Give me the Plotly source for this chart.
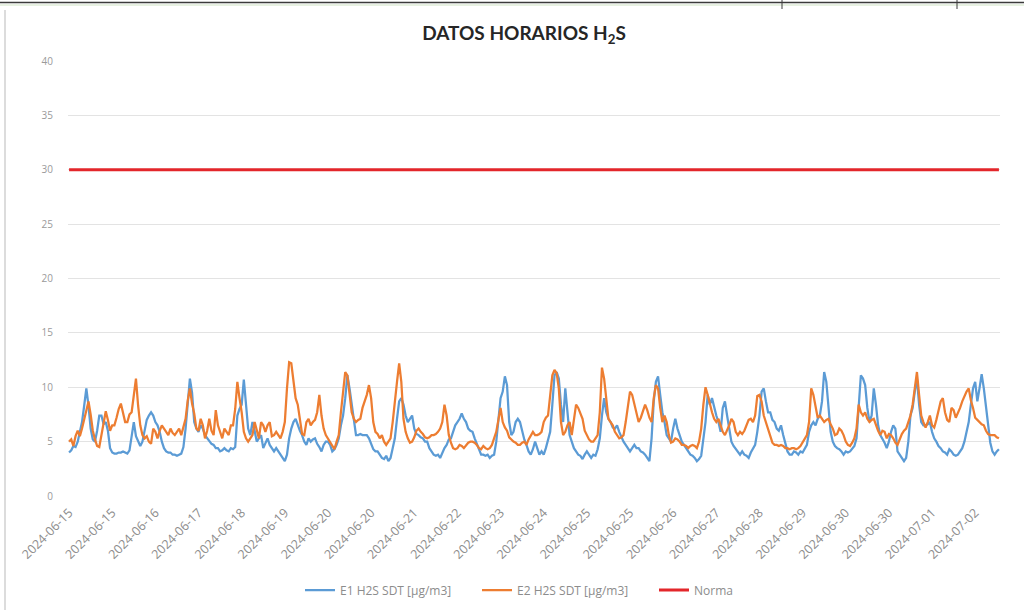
import pandas as pd
import plotly.graph_objects as go

# Hourly H2S readings, 2024-06-15 00:00 to 2024-07-02 23:00 (one row of 24 per day)
e1_h2s = [
    4.0, 4.2, 4.6, 4.5, 5.0, 6.0, 6.8, 8.3, 9.9, 8.3, 6.2, 5.2, 5.0, 6.0, 7.4, 7.4, 6.6, 6.8, 6.0, 4.4, 4.0, 3.9, 3.9, 4.0,
    4.0, 4.1, 4.0, 3.9, 4.2, 5.6, 6.8, 5.5, 5.0, 4.6, 5.0, 5.9, 7.0, 7.4, 7.7, 7.4, 6.8, 6.5, 5.9, 5.0, 4.4, 4.1, 4.0, 4.0,
    3.8, 3.8, 3.7, 3.8, 3.9, 4.5, 6.2, 8.5, 10.8, 9.5, 6.8, 6.2, 5.9, 6.5, 6.2, 5.6, 5.3, 5.0, 4.8, 4.7, 4.4, 4.4, 4.1, 4.2,
    4.4, 4.2, 4.1, 4.4, 4.3, 4.5, 7.4, 8.0, 8.4, 10.7, 8.0, 6.2, 5.6, 6.8, 6.0, 5.0, 5.3, 5.6, 4.4, 4.8, 5.3, 4.7, 4.4, 4.1,
    4.4, 4.1, 3.8, 3.5, 3.2, 3.8, 5.3, 6.2, 6.8, 7.1, 6.5, 6.0, 5.6, 5.0, 4.7, 5.3, 5.0, 5.2, 5.3, 4.8, 4.5, 4.1, 4.7, 5.0,
    5.0, 4.7, 4.1, 4.3, 4.7, 5.3, 6.5, 7.4, 9.0, 11.1, 9.9, 8.4, 6.8, 5.6, 5.6, 5.7, 5.6, 5.6, 5.6, 5.3, 4.7, 4.3, 4.1, 4.1,
    3.8, 3.5, 3.4, 3.7, 3.2, 3.5, 4.4, 5.3, 7.1, 8.7, 9.0, 8.4, 7.4, 6.8, 7.1, 7.4, 6.2, 5.7, 5.6, 5.4, 5.3, 5.0, 5.0, 4.4,
    4.1, 3.8, 3.7, 3.8, 3.5, 4.0, 4.4, 4.7, 5.2, 5.3, 5.9, 6.5, 6.8, 7.1, 7.6, 7.1, 6.8, 6.2, 6.0, 5.9, 5.3, 4.8, 4.3, 3.8,
    3.8, 3.7, 3.8, 3.5, 3.7, 3.8, 5.0, 6.8, 9.0, 9.6, 11.0, 10.2, 6.8, 5.6, 5.9, 6.8, 7.1, 6.8, 5.9, 5.2, 4.7, 4.1, 3.8, 4.3,
    5.0, 4.4, 3.8, 4.1, 3.8, 4.4, 5.3, 5.9, 8.4, 11.1, 11.4, 10.8, 8.4, 6.8, 9.9, 7.4, 5.6, 5.0, 4.4, 4.1, 3.8, 3.7, 3.4, 3.8,
    4.1, 3.8, 3.5, 3.8, 3.7, 4.3, 5.3, 7.4, 9.0, 7.7, 7.1, 6.8, 6.3, 6.2, 6.5, 5.9, 5.4, 5.0, 4.7, 4.4, 4.1, 4.4, 4.7, 4.4,
    4.4, 4.1, 4.0, 3.8, 3.5, 3.2, 5.3, 8.7, 10.5, 11.0, 9.3, 7.7, 6.8, 5.6, 5.3, 5.0, 6.2, 7.1, 6.2, 5.6, 5.0, 4.7, 4.4, 4.1,
    3.8, 3.7, 3.5, 3.2, 3.4, 3.7, 5.3, 6.8, 9.3, 8.4, 9.0, 8.1, 7.4, 6.8, 5.9, 8.1, 8.7, 7.4, 6.2, 5.0, 4.6, 4.3, 4.1, 3.8,
    4.1, 3.8, 3.7, 3.5, 4.0, 4.4, 4.7, 5.9, 7.4, 9.6, 9.9, 8.7, 7.7, 7.7, 7.0, 6.8, 6.2, 6.0, 6.5, 5.6, 4.7, 4.1, 3.8, 3.8,
    4.1, 4.0, 3.8, 4.1, 4.0, 4.3, 4.7, 5.9, 6.5, 6.8, 6.5, 7.1, 7.4, 8.7, 11.4, 10.5, 8.1, 5.9, 5.0, 4.6, 4.4, 4.3, 4.1, 3.8,
    4.1, 4.0, 4.1, 4.4, 4.6, 5.3, 8.4, 11.1, 10.8, 10.2, 8.1, 6.8, 7.4, 9.9, 8.4, 6.5, 5.6, 5.3, 4.9, 4.4, 5.0, 5.9, 6.5, 6.2,
    4.1, 3.8, 3.5, 3.2, 3.5, 5.0, 7.4, 8.1, 9.6, 10.8, 8.4, 6.8, 6.5, 6.5, 6.6, 6.8, 5.9, 5.3, 5.0, 4.6, 4.4, 4.1, 4.0, 3.8,
    4.3, 4.1, 3.8, 3.7, 3.8, 4.1, 4.4, 5.0, 5.9, 6.8, 8.4, 9.9, 10.5, 8.7, 9.9, 11.2, 9.9, 8.1, 6.2, 4.9, 4.1, 3.8, 4.1, 4.3,
]

e2_h2s = [
    5.0, 5.2, 4.6, 5.5, 6.0, 5.5, 6.2, 7.0, 7.8, 8.7, 7.5, 6.0, 5.2, 4.6, 4.5, 5.5, 6.5, 7.8, 7.0, 6.0, 6.5, 6.5, 7.2, 8.0,
    8.5, 7.5, 6.8, 6.8, 7.5, 7.7, 9.5, 10.8, 8.3, 6.5, 5.6, 5.3, 5.5, 5.0, 4.8, 6.2, 5.9, 5.3, 6.0, 6.5, 6.2, 5.9, 5.6, 6.2,
    5.8, 5.6, 5.9, 6.2, 5.6, 6.5, 7.1, 8.8, 9.9, 8.5, 7.6, 6.2, 6.0, 7.1, 6.5, 5.3, 6.0, 7.1, 6.0, 5.6, 7.9, 6.5, 5.9, 5.3,
    6.2, 5.9, 5.6, 6.5, 6.5, 8.0, 10.5, 9.0, 7.7, 5.9, 5.3, 5.0, 5.3, 5.6, 6.8, 6.0, 5.3, 6.8, 6.5, 5.9, 6.5, 6.8, 5.5, 5.6,
    5.9, 5.6, 5.3, 5.9, 6.8, 9.9, 12.3, 12.2, 10.5, 9.0, 8.4, 6.8, 5.7, 5.6, 6.8, 7.1, 6.5, 6.8, 7.0, 7.7, 9.3, 7.4, 6.2, 5.6,
    5.3, 5.0, 4.7, 4.3, 5.0, 5.6, 7.7, 9.9, 11.4, 11.1, 9.3, 7.7, 7.1, 6.8, 7.0, 7.1, 8.1, 8.7, 9.3, 10.2, 9.0, 6.8, 5.9, 5.7,
    5.3, 5.6, 5.0, 4.7, 5.0, 5.3, 6.8, 8.4, 10.5, 12.2, 10.5, 7.1, 5.9, 5.3, 4.9, 5.0, 5.4, 6.0, 6.2, 5.9, 5.7, 5.4, 5.3, 5.4,
    5.6, 5.6, 5.7, 5.9, 6.2, 6.8, 8.4, 7.4, 5.6, 4.9, 4.4, 4.3, 4.4, 4.7, 4.6, 4.4, 4.7, 4.9, 5.0, 5.0, 4.9, 4.7, 4.4, 4.3,
    4.6, 4.4, 4.3, 4.4, 4.7, 5.3, 5.9, 7.0, 8.1, 6.8, 6.3, 6.0, 5.4, 5.2, 5.0, 4.9, 4.7, 4.7, 4.9, 5.0, 4.7, 5.2, 5.6, 5.9,
    5.6, 5.6, 5.7, 5.9, 6.8, 7.2, 7.4, 9.3, 11.1, 11.6, 11.3, 9.9, 6.8, 5.6, 5.9, 6.5, 6.8, 5.6, 7.1, 8.4, 8.1, 7.6, 7.1, 6.0,
    5.6, 5.2, 5.0, 5.0, 5.3, 5.6, 7.7, 11.8, 10.8, 8.7, 7.1, 6.8, 6.5, 5.9, 5.6, 5.3, 5.4, 5.6, 6.8, 8.4, 9.6, 9.3, 8.4, 7.4,
    6.8, 7.2, 7.9, 8.4, 7.9, 7.2, 6.8, 9.0, 10.2, 9.9, 8.1, 6.8, 7.4, 6.8, 5.6, 4.9, 5.0, 5.3, 5.2, 5.0, 4.7, 4.7, 4.6, 4.4,
    4.6, 4.7, 4.6, 4.4, 5.0, 6.2, 8.4, 10.0, 9.3, 8.4, 7.7, 7.1, 6.8, 7.1, 6.5, 5.9, 5.6, 6.0, 6.5, 7.1, 6.8, 5.9, 5.6, 5.9,
    5.7, 6.0, 6.5, 7.0, 7.1, 6.8, 7.4, 9.2, 9.3, 8.7, 7.4, 6.8, 6.3, 5.6, 4.9, 4.7, 4.7, 4.6, 4.7, 4.6, 4.4, 4.4, 4.3, 4.4,
    4.4, 4.3, 4.4, 4.6, 4.9, 5.3, 5.6, 6.8, 9.9, 9.3, 8.1, 7.2, 7.4, 7.1, 6.8, 7.0, 7.1, 6.6, 6.2, 5.6, 5.7, 6.2, 6.0, 5.6,
    5.0, 4.7, 4.6, 4.9, 5.3, 6.2, 8.4, 7.7, 7.4, 7.7, 7.1, 6.8, 7.0, 7.1, 6.5, 6.0, 5.6, 6.0, 5.9, 5.3, 5.7, 5.6, 5.3, 4.9,
    4.7, 5.2, 5.7, 6.0, 6.2, 6.8, 7.4, 8.4, 10.2, 11.4, 9.3, 7.4, 6.8, 6.3, 6.8, 7.4, 6.5, 6.3, 7.0, 7.9, 8.7, 9.0, 7.7, 7.0,
    6.8, 8.1, 7.9, 7.2, 7.6, 8.1, 8.7, 9.2, 9.6, 9.9, 8.8, 8.1, 7.2, 7.0, 6.8, 6.6, 6.5, 6.0, 5.7, 5.6, 5.6, 5.6, 5.4, 5.3,
]

norma_limit = 30
start_time = "2024-06-15 00:00"
series_names = ["E1 H2S SDT [µg/m3]", "E2 H2S SDT [µg/m3]", "Norma"]
label_step_hours = 20

hours = pd.date_range(start_time, periods=len(e1_h2s), freq="h")
tick_positions = hours[::label_step_hours]
tick_labels = [t.strftime("%Y-%m-%d") for t in tick_positions]

fig = go.Figure()
fig.add_trace(go.Scatter(x=hours, y=e1_h2s, mode="lines", name=series_names[0],
                         line=dict(color="#5B9BD5", width=2.25)))
fig.add_trace(go.Scatter(x=hours, y=e2_h2s, mode="lines", name=series_names[1],
                         line=dict(color="#ED7D31", width=2.25)))
fig.add_trace(go.Scatter(x=hours, y=[norma_limit] * len(hours), mode="lines", name=series_names[2],
                         line=dict(color="#E3262B", width=3.2)))

# Pixel geometry of the plot area (used to place frame decorations)
L, R, T, B = 68, 24, 61, 114
W, H = 1024 - L - R, 610 - T - B


def px(x):
    return (x - L) / W


def py(y):
    return (610 - B - y) / H


shapes = [
    # sheet grid line across the top and cell separators
    dict(type="line", xref="paper", yref="paper", x0=px(0), x1=px(1024), y0=py(2.5), y1=py(2.5),
         line=dict(color="#3a3a3a", width=1.5)),
    dict(type="line", xref="paper", yref="paper", x0=px(0), x1=px(1024), y0=py(5), y1=py(5),
         line=dict(color="#cfe3c4", width=1)),
    dict(type="line", xref="paper", yref="paper", x0=px(782), x1=px(782), y0=py(0), y1=py(9),
         line=dict(color="#3a3a3a", width=1)),
    dict(type="line", xref="paper", yref="paper", x0=px(957), x1=px(957), y0=py(0), y1=py(9),
         line=dict(color="#3a3a3a", width=1)),
    # chart frame, left edge
    dict(type="line", xref="paper", yref="paper", x0=px(5), x1=px(5), y0=py(10), y1=py(610),
         line=dict(color="#d0d0d0", width=1.5)),
]

fig.update_layout(
    width=1024, height=610,
    margin=dict(l=L, r=R, t=T, b=B, pad=0, autoexpand=False),
    paper_bgcolor="white", plot_bgcolor="white",
    title=dict(text="DATOS HORARIOS H<sub>2</sub>S", x=px(524), xref="paper", xanchor="center",
               y=1 - 33 / 610, yanchor="middle",
               font=dict(family="Lato", size=19, color="#262626", weight="bold")),
    showlegend=True,
    legend=dict(orientation="h", x=px(300), xanchor="left", y=py(590), yanchor="middle",
                font=dict(family="Open Sans", size=12, color="#8c8c8c"),
                itemwidth=30, entrywidth=132, entrywidthmode="pixels",
                tracegroupgap=0, bgcolor="rgba(0,0,0,0)"),
    shapes=shapes,
    font=dict(family="Open Sans", color="#8c8c8c"),
)

fig.update_xaxes(
    range=[hours[0] - pd.Timedelta(minutes=30), hours[-1] + pd.Timedelta(minutes=30)],
    tickmode="array", tickvals=tick_positions, ticktext=tick_labels,
    tickangle=-45, tickfont=dict(family="Open Sans", size=12.5, color="#8c8c8c"),
    ticklabelstandoff=6, automargin=False,
    showgrid=False, showline=False, zeroline=False, ticks="",
)
fig.update_yaxes(
    range=[0, 40], dtick=5, tick0=0, automargin=False,
    showgrid=True, gridcolor="#e3e3e3", gridwidth=1,
    zeroline=False, showline=False, ticks="",
    tickfont=dict(family="Open Sans", size=10, color="#9a9a9a"),
    ticklabelstandoff=14,
)

fig.write_html("out.html")
